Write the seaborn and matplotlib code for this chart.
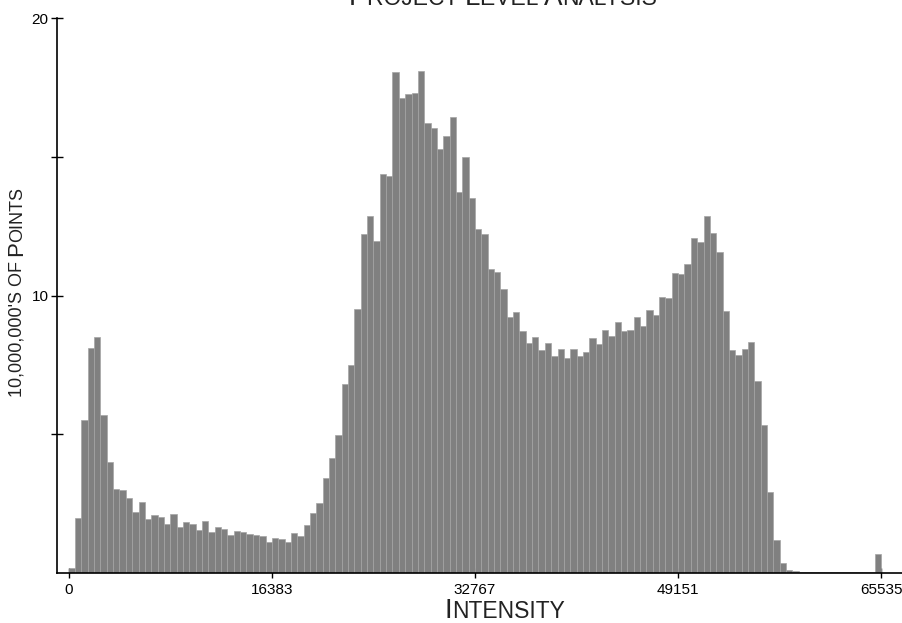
import numpy as np
import pandas as pd
import matplotlib
matplotlib.use("Agg")
import matplotlib.pyplot as plt
from matplotlib.transforms import IdentityTransform
import seaborn as sns

# histogram bins (width 512) over the 16-bit intensity range
bin_width = 512
bin_left = np.arange(0, 65536, bin_width)

# heights in units of 10,000,000 points
counts = [
    0.19, 1.99, 5.50, 8.12, 8.50, 5.69, 4.00, 3.01, 2.98, 2.70,
    2.20, 2.57, 1.94, 2.09, 2.03, 1.75, 2.11, 1.64, 1.82, 1.77,
    1.54, 1.88, 1.49, 1.65, 1.59, 1.38, 1.52, 1.46, 1.41, 1.37,
    1.32, 1.12, 1.25, 1.21, 1.12, 1.43, 1.34, 1.73, 2.15, 2.54,
    3.43, 4.14, 4.96, 6.81, 7.48, 9.53, 12.20, 12.88, 11.98, 14.37,
    14.30, 18.04, 17.12, 17.27, 17.29, 18.10, 16.21, 16.04, 15.27, 15.76,
    16.44, 13.74, 14.99, 13.52, 12.40, 12.20, 10.95, 10.84, 10.25, 9.22,
    9.39, 8.73, 8.28, 8.51, 8.05, 8.29, 7.81, 8.08, 7.73, 8.08,
    7.82, 7.95, 8.47, 8.26, 8.77, 8.55, 9.03, 8.72, 8.76, 9.24,
    8.91, 9.48, 9.31, 9.96, 9.92, 10.82, 10.77, 11.12, 12.06, 11.92,
    12.88, 12.27, 11.55, 9.45, 8.02, 7.84, 8.06, 8.32, 6.92, 5.35,
    2.92, 1.20, 0.35, 0.12, 0.06, 0.04, 0.03, 0.03, 0.03, 0.03,
    0.02, 0.02, 0.02, 0.02, 0.02, 0.02, 0.02, 0.69,
]

x_ticks = [0, 16383, 32767, 49151, 65535]
y_ticks = [10, 20]
y_minor = [5, 15]

# small-caps text pieces: (text, is_capital)
title_parts = [("P", 1), ("ROJECT ", 0), ("L", 1), ("EVEL ", 0), ("A", 1), ("NALYSIS", 0)]
xlabel_parts = [("I", 1), ("NTENSITY", 0)]
ylabel_parts = [("10,000,000'S OF ", 0), ("P", 1), ("OINTS", 0)]

df = pd.DataFrame({"intensity": bin_left + bin_width / 2, "points": counts})

sns.set_style("ticks")
plt.rcParams["font.family"] = ["Liberation Sans", "DejaVu Sans"]

fig = plt.figure(figsize=(9.03, 6.23), dpi=100)
ax = fig.add_axes([57 / 903, 50 / 623, 845 / 903, 555 / 623])

sns.histplot(data=df, x="intensity", weights="points", binwidth=bin_width,
             binrange=(0, 65536), color="#808080", alpha=1,
             edgecolor="#a4a4a4", linewidth=0.5, ax=ax)

ax.set_xlim(-944, 67206)
ax.set_ylim(0, 20)
ax.set_xticks(x_ticks)
ax.set_xticklabels([str(t) for t in x_ticks])
ax.set_yticks(y_ticks)
ax.set_yticks(y_minor, minor=True)
ax.set_xlabel("")
ax.set_ylabel("")
ax.tick_params(axis="both", which="both", direction="inout", color="black",
               labelsize=11, labelcolor="black", bottom=True, left=True)
ax.tick_params(axis="y", which="major", length=8, width=1, pad=2)
ax.tick_params(axis="y", which="minor", length=8, width=1)
ax.tick_params(axis="x", which="major", length=7, width=1, pad=4)
for side in ["top", "right"]:
    ax.spines[side].set_visible(False)
for side in ["left", "bottom"]:
    ax.spines[side].set_color("black")
    ax.spines[side].set_linewidth(1.2)


def small_caps(cx, cy, parts, big, small, rot=0):
    # lay out text pieces side by side, centred on (cx, cy) in pixels
    r = fig.canvas.get_renderer()
    items = []
    for s, cap in parts:
        t = fig.text(0, 0, s, fontsize=big if cap else small, rotation=rot,
                     rotation_mode="anchor", ha="left", va="baseline",
                     color="#222222", transform=IdentityTransform())
        items.append(t)
    ext = [t.get_window_extent(r) for t in items]
    sizes = [e.width if rot == 0 else e.height for e in ext]
    pos = -sum(sizes) / 2
    for t, w in zip(items, sizes):
        if rot == 0:
            t.set_position((cx + pos, cy))
        else:
            t.set_position((cx, cy + pos))
        pos += w


fig.canvas.draw()
small_caps(503, 623 - 5, title_parts, 20, 16.5)
small_caps(505, 623 - 618, xlabel_parts, 20, 16.5)
small_caps(22, 623 - 292, ylabel_parts, 16, 13, rot=90)

fig.savefig("out.png", dpi=100)
